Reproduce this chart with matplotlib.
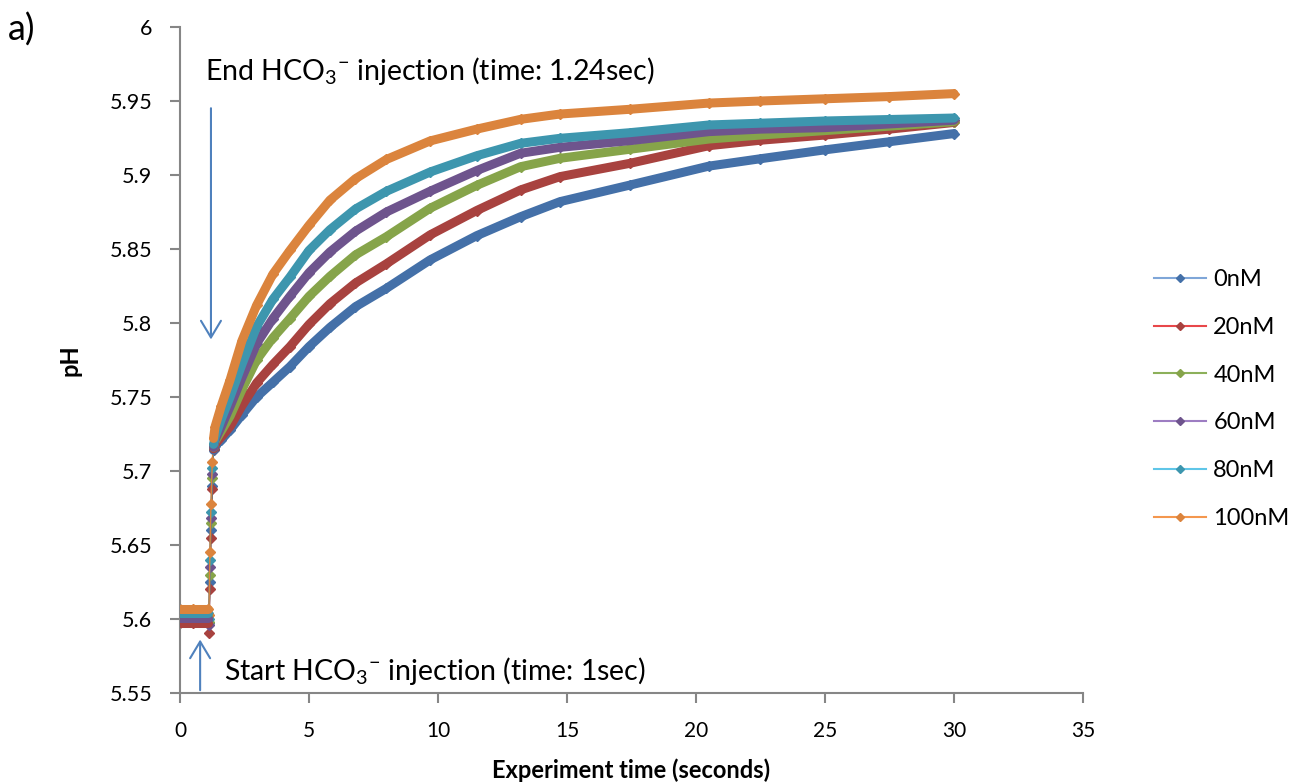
import matplotlib
matplotlib.use("Agg")
import matplotlib.pyplot as plt
from matplotlib.lines import Line2D
import numpy as np

plt.rcParams['font.family'] = ['Lato', 'DejaVu Sans']
plt.rcParams['mathtext.fontset'] = 'custom'
plt.rcParams['mathtext.rm'] = 'Lato'
plt.rcParams['mathtext.it'] = 'Lato'

# ---- data ----
time_s = [0, 0.5, 1.08, 1.12, 1.16, 1.2, 1.25, 1.3, 1.36, 1.6, 1.94, 2.4, 2.97, 3.6,
          4.26, 5.0, 5.81, 6.8, 8.0, 9.69, 11.5, 13.2, 14.73, 17.44, 20.5, 22.5, 25,
          27.5, 30]

labels = ["0nM", "20nM", "40nM", "60nM", "80nM", "100nM"]

ph_0nM = [5.600, 5.600, 5.600, 5.597, 5.625, 5.660, 5.690, 5.714, 5.717, 5.721, 5.7277,
          5.738, 5.750, 5.760, 5.7705, 5.784, 5.797, 5.811, 5.8234, 5.8426, 5.859,
          5.8718, 5.882, 5.8932, 5.906, 5.911, 5.917, 5.9225, 5.928]
ph_20nM = [5.5975, 5.5975, 5.5975, 5.5905, 5.620, 5.655, 5.688, 5.715, 5.718, 5.723,
           5.730, 5.744, 5.7595, 5.772, 5.784, 5.799, 5.813, 5.827, 5.840, 5.8595,
           5.876, 5.8899, 5.8989, 5.9079, 5.9198, 5.9235, 5.927, 5.931, 5.9355]
ph_40nM = [5.602, 5.602, 5.602, 5.598, 5.630, 5.665, 5.695, 5.716, 5.720, 5.727, 5.737,
           5.755, 5.775, 5.790, 5.803, 5.818, 5.8315, 5.846, 5.8583, 5.8775, 5.893,
           5.9056, 5.9113, 5.9174, 5.9243, 5.927, 5.930, 5.933, 5.936]
ph_60nM = [5.601, 5.601, 5.601, 5.596, 5.635, 5.668, 5.698, 5.716, 5.721, 5.730, 5.7435,
           5.763, 5.786, 5.803, 5.818, 5.834, 5.848, 5.862, 5.875, 5.889, 5.903,
           5.9147, 5.9187, 5.9232, 5.9293, 5.931, 5.932, 5.9345, 5.937]
ph_80nM = [5.604, 5.604, 5.604, 5.600, 5.640, 5.672, 5.702, 5.718, 5.723, 5.735, 5.750,
           5.772, 5.7975, 5.816, 5.831, 5.849, 5.863, 5.877, 5.889, 5.902, 5.913,
           5.9214, 5.9248, 5.9286, 5.9338, 5.935, 5.9365, 5.9375, 5.9385]
ph_100nM = [5.607, 5.607, 5.607, 5.603, 5.645, 5.678, 5.706, 5.722, 5.730, 5.744, 5.7615,
            5.788, 5.812, 5.833, 5.849, 5.866, 5.883, 5.8975, 5.9105, 5.923, 5.931,
            5.9376, 5.9412, 5.9444, 5.9486, 5.950, 5.9515, 5.953, 5.955]

series = [ph_0nM, ph_20nM, ph_40nM, ph_60nM, ph_80nM, ph_100nM]
dark_colors = ['#4470A8', '#A8423F', '#86A44A', '#6E548D', '#3D96AE', '#DB843D']
light_colors = ['#7FA6D8', '#E8474A', '#8CB05A', '#9D7DC2', '#5FC6E8', '#F4974E']

x_ticks = [0, 5, 10, 15, 20, 25, 30, 35]
y_ticks = [5.55, 5.6, 5.65, 5.7, 5.75, 5.8, 5.85, 5.9, 5.95, 6.0]
y_tick_labels = ["5.55", "5.6", "5.65", "5.7", "5.75", "5.8", "5.85", "5.9", "5.95", "6"]

# ---- figure ----
W, H = 1299, 784
fig = plt.figure(figsize=(W / 100, H / 100), dpi=100)
ax = fig.add_axes([180 / W, 1 - 693 / H, (1083 - 180) / W, (693 - 27) / H])

t = np.array(time_s)
for vals, dc in zip(series, dark_colors):
    v = np.array(vals)
    ax.plot(t, v, color=dc, lw=1.0, marker='D', ms=5, mec=dc, mfc=dc, zorder=2)
    pre = t <= 1.08
    post = t >= 1.3
    ax.plot(t[pre], v[pre], color=dc, lw=6.5, solid_capstyle='round',
            solid_joinstyle='round', zorder=3)
    ax.plot(t[post], v[post], color=dc, lw=6.5, solid_capstyle='round',
            solid_joinstyle='round', zorder=3)

ax.set_xlim(0, 35)
ax.set_ylim(5.55, 6.0)
ax.set_xticks(x_ticks)
ax.set_xticklabels([str(v) for v in x_ticks], fontsize=15)
ax.set_yticks(y_ticks)
ax.set_yticklabels(y_tick_labels, fontsize=15.5)

gray = '#868686'
for s in ['top', 'right']:
    ax.spines[s].set_visible(False)
for s in ['left', 'bottom']:
    ax.spines[s].set_color(gray)
    ax.spines[s].set_linewidth(1.5)
ax.tick_params(axis='both', direction='out', length=7, width=1.5, color=gray,
               labelcolor='black')
ax.tick_params(axis='x', pad=13)
ax.tick_params(axis='y', pad=13)

ax.set_xlabel("Experiment time (seconds)", fontsize=17, fontweight='bold')
ax.xaxis.set_label_coords(0.5, (693 - 770) / 666)
ax.xaxis.label.set_va('center')
ax.set_ylabel("pH", fontsize=17, fontweight='bold')
ax.yaxis.set_label_coords((70 - 180) / 903, 0.5)
ax.yaxis.label.set_va('center')

# annotations
arrow_c = '#4F81BD'
ax.annotate("", xy=(1.2, 5.787), xytext=(1.2, 5.947),
            arrowprops=dict(arrowstyle='->,head_length=1.2,head_width=0.72', color=arrow_c, lw=1.5))
ax.annotate("", xy=(0.78, 5.588), xytext=(0.78, 5.55),
            arrowprops=dict(arrowstyle='->,head_length=1.2,head_width=0.72', color=arrow_c, lw=1.5))
ax.text(0.97, 5.970, r"End HCO$_3{}^{-}$ injection (time: 1.24sec)", fontsize=20.5,
        va='center', ha='left')
ax.text(1.72, 5.565, r"Start HCO$_3{}^{-}$ injection (time: 1sec)", fontsize=20.5,
        va='center', ha='left')

fig.text(8 / W, 1 - 30 / H, "a)", fontsize=26, va='center', ha='left')

# legend
handles = [Line2D([0], [0], color=lc, lw=1.5, marker='D', ms=4, mfc=dc, mec=dc)
           for lc, dc in zip(light_colors, dark_colors)]
fig.legend(handles, labels, loc='center left', bbox_to_anchor=(1133 / W, 1 - 399 / H),
           frameon=False, fontsize=17, handlelength=2.2, labelspacing=1.135,
           handletextpad=0.3)

fig.savefig("out.png", dpi=100)
